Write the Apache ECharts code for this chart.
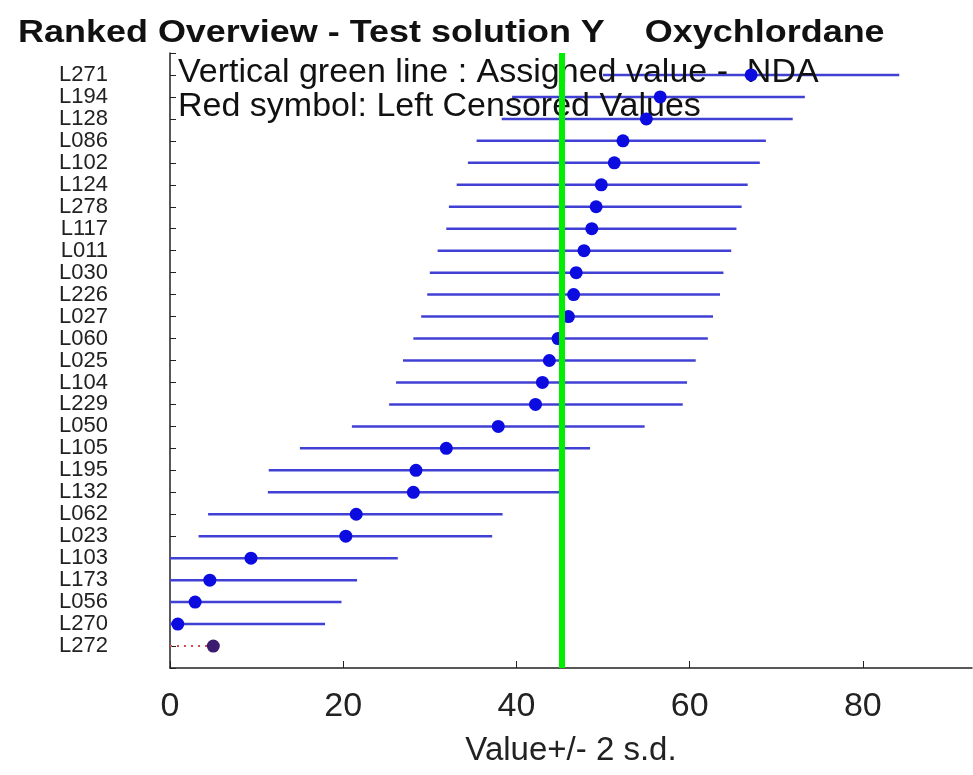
<!DOCTYPE html>
<html>
<head>
<meta charset="utf-8">
<script src="https://cdn.jsdelivr.net/npm/echarts@6/dist/echarts.min.js"></script>
<style>
  html, body { margin: 0; padding: 0; background: #fff; }
  #chart { width: 973px; height: 775px; }
</style>
</head>
<body>
<div id="chart"></div>
<script>
// labs ranked top to bottom
var labs = ['L271', 'L194', 'L128', 'L086', 'L102', 'L124', 'L278', 'L117', 'L011',
    'L030', 'L226', 'L027', 'L060', 'L025', 'L104', 'L229', 'L050', 'L105',
    'L195', 'L132', 'L062', 'L023', 'L103', 'L173', 'L056', 'L270', 'L272']
var values = [67.1, 56.6, 55.0, 52.3, 51.3, 49.8, 49.2, 48.7, 47.8,
    46.9, 46.6, 46.0, 44.8, 43.8, 43.0, 42.2, 37.9, 31.9,
    28.4, 28.1, 21.5, 20.3, 9.35, 4.6, 2.9, 0.9, 5.0]
var lower = [50.0, 39.5, 38.3, 35.4, 34.4, 33.1, 32.2, 31.9, 30.9,
    30.0, 29.7, 29.0, 28.1, 26.9, 26.1, 25.3, 21.0, 15.0,
    11.4, 11.3, 4.4, 3.3, 0, 0, 0, 0, 0]
var upper = [84.2, 73.3, 71.9, 68.8, 68.1, 66.7, 66.0, 65.4, 64.8,
    63.9, 63.5, 62.7, 62.1, 60.7, 59.7, 59.2, 54.8, 48.5,
    45.3, 45.0, 38.4, 37.2, 26.3, 21.6, 19.8, 17.9, 5.0]
// 1 = left censored value
var censored = [0, 0, 0, 0, 0, 0, 0, 0, 0, 0, 0, 0, 0, 0, 0, 0, 0, 0,
    0, 0, 0, 0, 0, 0, 0, 0, 1]
var assigned = 45.2
var xTicks = [0, 20, 40, 60, 80]

var barData = []
var dotData = []
for (var i = 0; i < labs.length; i++) {
    barData.push([i + 1, lower[i], upper[i], censored[i]])
    dotData.push({
        value: [values[i], i + 1],
        itemStyle: { color: censored[i] ? '#3b1c6e' : '#0c0ce0' }
    })
}

var font = 'Liberation Sans'

var option = {
    animation: false,
    grid: { left: 170, top: 53, right: 1, bottom: 107 },
    xAxis: {
        type: 'value',
        position: 'bottom',
        min: 0,
        max: 92.6,
        interval: 20,
        name: 'Value+/- 2 s.d.',
        nameLocation: 'middle',
        nameGap: 66,
        nameTextStyle: { fontFamily: font, fontSize: 33, color: '#222' },
        axisLine: { onZero: false, lineStyle: { color: '#222', width: 1.5 } },
        axisTick: { inside: true, length: 7, lineStyle: { color: '#222' } },
        axisLabel: {
            margin: 22,
            fontFamily: font,
            fontSize: 34,
            color: '#222',
            showMaxLabel: false,
            formatter: function (v) { return xTicks.indexOf(v) >= 0 ? v : '' }
        },
        splitLine: { show: false }
    },
    yAxis: {
        type: 'value',
        min: 0,
        max: 28,
        interval: 1,
        inverse: true,
        axisLine: { show: true, onZero: false, lineStyle: { color: '#222', width: 1.5 } },
        axisTick: { show: true, inside: true, length: 6, lineStyle: { color: '#222' } },
        axisLabel: {
            margin: 62,
            fontFamily: font,
            fontSize: 22,
            color: '#222',
            formatter: function (v) { return labs[v - 1] || '' }
        },
        splitLine: { show: false }
    },
    graphic: [
        {
            type: 'text', x: 18, y: 18, scaleX: 1.16, z: 3,
            style: {
                text: 'Ranked Overview - Test solution Y    Oxychlordane',
                fontFamily: font, fontWeight: 'bold', fontSize: 31, fill: '#111'
            }
        },
        {
            type: 'text', x: 178, y: 56, z: 3,
            style: { text: 'Vertical green line : Assigned value -  NDA', fontFamily: font, fontSize: 34, fill: '#111' }
        },
        {
            type: 'text', x: 178, y: 90, z: 3,
            style: { text: 'Red symbol: Left Censored Values', fontFamily: font, fontSize: 34, fill: '#111' }
        }
    ],
    series: [
        {
            type: 'custom',
            z: 2,
            clip: true,
            encode: { x: [1, 2], y: 0 },
            data: barData,
            renderItem: function (params, api) {
                var y = api.value(0)
                var a = api.coord([api.value(1), y])
                var b = api.coord([api.value(2), y])
                var cens = api.value(3)
                return {
                    type: 'line',
                    shape: { x1: a[0], y1: a[1], x2: b[0], y2: b[1] },
                    style: cens ? { stroke: '#d05050', lineWidth: 2, lineDash: [2, 5] }
                        : { stroke: '#4040d4', lineWidth: 2.5 }
                }
            }
        },
        {
            type: 'scatter',
            z: 4,
            symbolSize: 13,
            itemStyle: { opacity: 1 },
            data: dotData
        },
        {
            type: 'line',
            z: 6,
            data: [],
            markLine: {
                silent: true,
                symbol: 'none',
                label: { show: false },
                lineStyle: { color: '#00ee00', width: 6, type: 'solid' },
                data: [{ xAxis: assigned }]
            }
        }
    ]
}

var chart = echarts.init(document.getElementById('chart'))
chart.setOption(option)
</script>
</body>
</html>
